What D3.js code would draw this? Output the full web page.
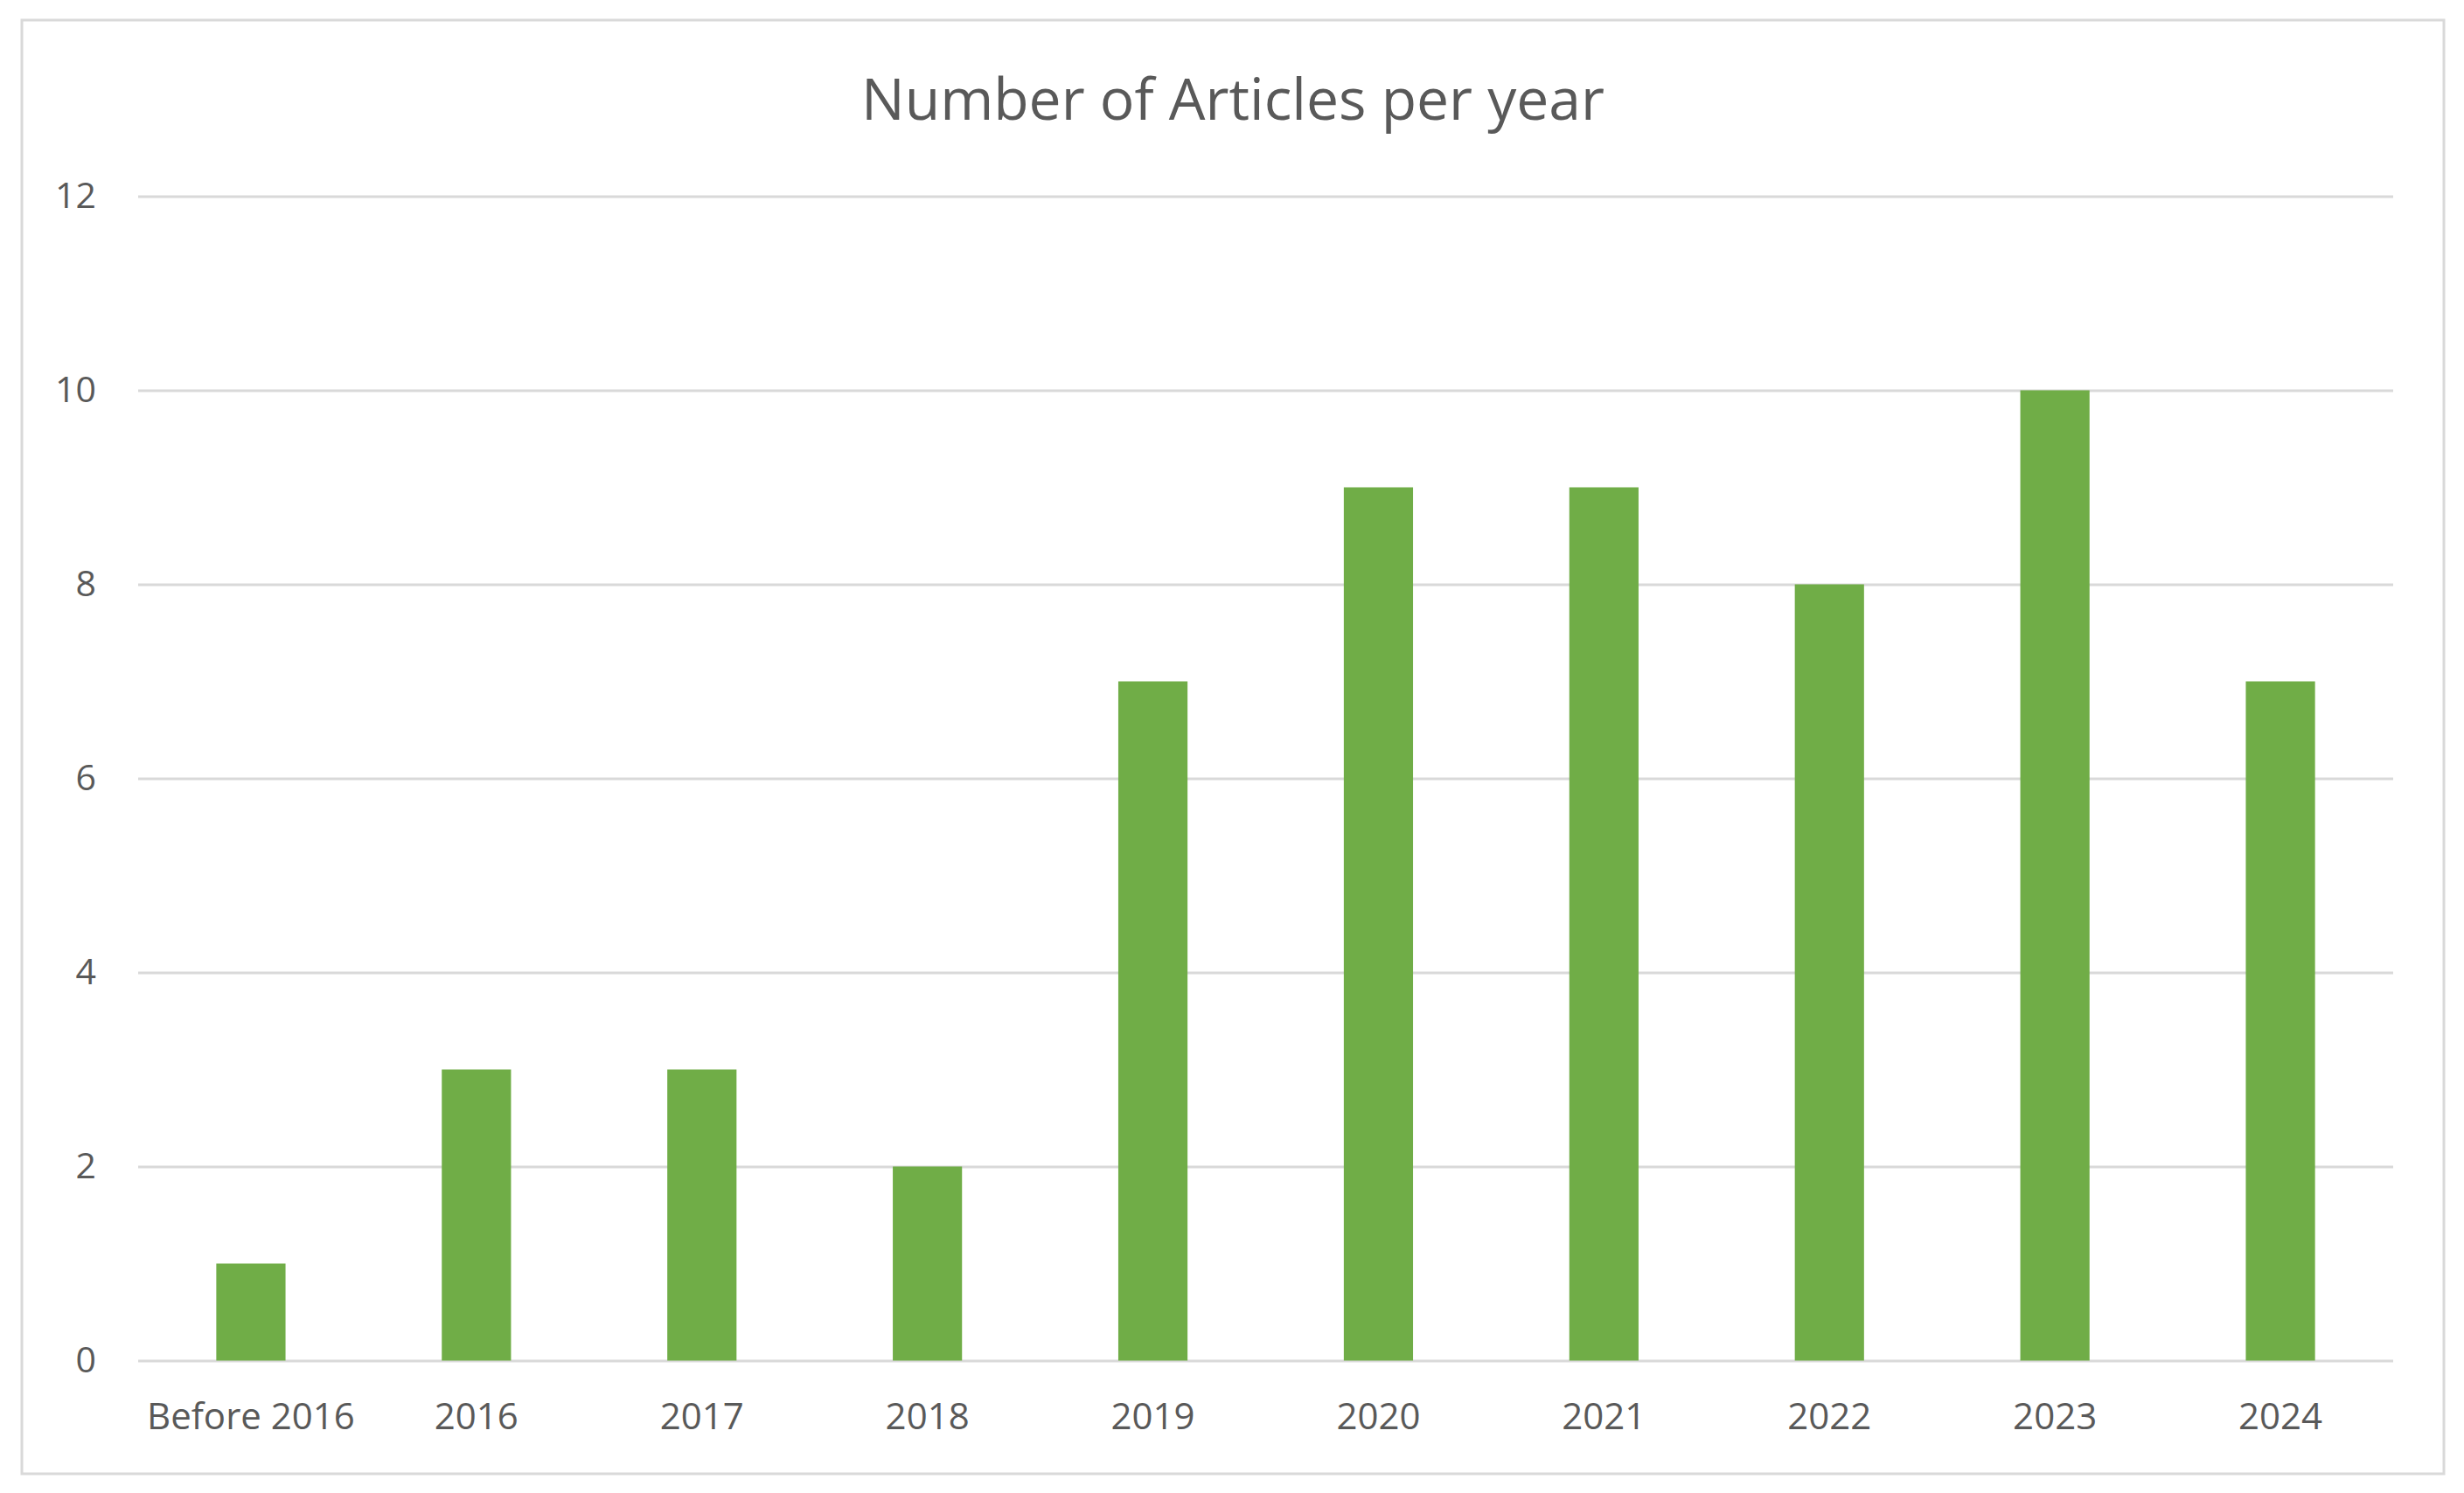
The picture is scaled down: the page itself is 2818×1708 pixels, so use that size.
<!DOCTYPE html>
<html>
<head>
<meta charset="utf-8">
<script src="https://cdn.jsdelivr.net/npm/d3@7"></script>
<style>
  html, body { margin: 0; padding: 0; background: #fff; }
  svg { display: block; }
  text { font-family: "Open Sans", "Noto Sans", sans-serif; fill: #595959; }
</style>
</head>
<body>
<svg id="chart" width="2818" height="1708"></svg>
<script>
const title = "Number of Articles per year";
const categories = ["Before 2016", "2016", "2017", "2018", "2019", "2020", "2021", "2022", "2023", "2024"];
const articles = [1, 3, 3, 2, 7, 9, 9, 8, 10, 7];
const yTicks = [0, 2, 4, 6, 8, 10, 12];

const svg = d3.select("#chart");
const W = 2818, H = 1708;
const frame = { left: 25, top: 23, right: 2795, bottom: 1686 };
const plot = { left: 158, right: 2737, top: 224.5, bottom: 1556.5 };

svg.append("rect").attr("width", W).attr("height", H).attr("fill", "#fff");
svg.append("rect")
  .attr("x", frame.left).attr("y", frame.top)
  .attr("width", frame.right - frame.left).attr("height", frame.bottom - frame.top)
  .attr("fill", "#fff").attr("stroke", "#D9D9D9").attr("stroke-width", 3);

const x = d3.scaleBand().domain(categories)
  .range([plot.left, plot.right])
  .paddingInner(0.693).paddingOuter(0.3465);
const y = d3.scaleLinear().domain([0, 12]).range([plot.bottom, plot.top]);

// gridlines + y labels
const yAxis = d3.axisLeft(y).tickValues(yTicks)
  .tickSize(-(plot.right - plot.left)).tickPadding(48).tickFormat(d3.format("d"));
const gy = svg.append("g").attr("transform", `translate(${plot.left},0)`).call(yAxis);
gy.select(".domain").remove();
gy.selectAll(".tick line").attr("stroke", "#D9D9D9").attr("stroke-width", 3);
gy.selectAll(".tick text").attr("font-size", 41).attr("fill", "#595959")
  .attr("font-family", "'Open Sans', sans-serif");

// bars
svg.append("g").selectAll("rect").data(categories).join("rect")
  .attr("x", d => x(d))
  .attr("width", x.bandwidth())
  .attr("y", (d, i) => y(articles[i]))
  .attr("height", (d, i) => y(0) - y(articles[i]))
  .attr("fill", "#70AD47");

// x axis
const xAxis = d3.axisBottom(x).tickSize(0).tickPadding(49);
const gx = svg.append("g").attr("transform", `translate(0,${plot.bottom})`).call(xAxis);
gx.select(".domain").remove();
gx.selectAll(".tick text").attr("font-size", 42).attr("fill", "#595959")
  .attr("font-family", "'Open Sans', sans-serif");

// title
svg.append("text")
  .attr("x", (frame.left + frame.right) / 2)
  .attr("y", 137)
  .attr("text-anchor", "middle")
  .attr("font-size", 66)
  .text(title);
</script>
</body>
</html>
